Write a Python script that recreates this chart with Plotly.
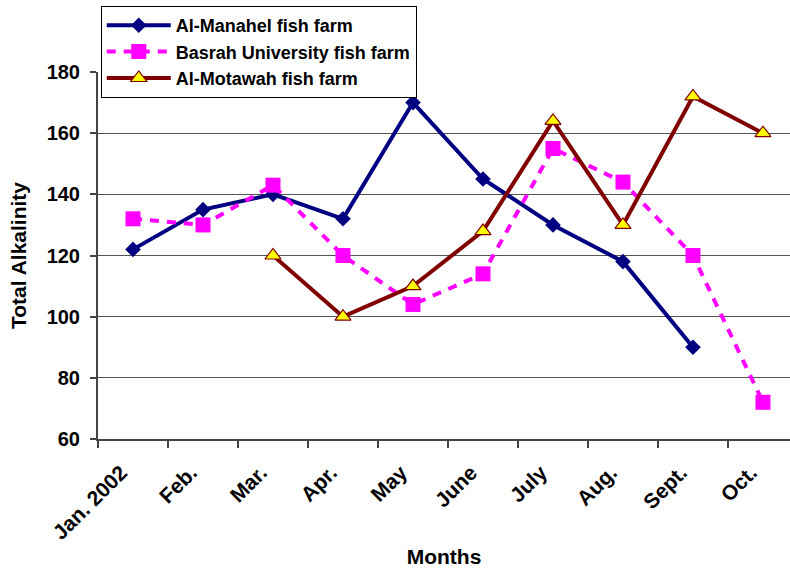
import plotly.graph_objects as go

months = ["Jan. 2002", "Feb.", "Mar.", "Apr.", "May", "June", "July", "Aug.", "Sept.", "Oct."]
manahel = [122, 135, 140, 132, 170, 145, 130, 118, 90, None]
basrah = [132, 130, 143, 120, 104, 114, 155, 144, 120, 72]
motawah = [None, None, 120, 100, 110, 128, 164, 130, 172, 160]

FONT = "Liberation Sans, Arial, sans-serif"

fig = go.Figure()
fig.add_trace(go.Scatter(
    x=months, y=manahel, name="Al-Manahel fish farm", mode="lines+markers",
    line=dict(color="#000080", width=4),
    marker=dict(symbol="diamond", size=12, color="#000080"),
    cliponaxis=False,
))
fig.add_trace(go.Scatter(
    x=months, y=basrah, name="Basrah University fish farm", mode="lines+markers",
    line=dict(color="#FF00FF", width=4, dash="9px,8px"),
    marker=dict(symbol="square", size=15, color="#FF00FF"),
    cliponaxis=False,
))
fig.add_trace(go.Scatter(
    x=months, y=motawah, name="Al-Motawah fish farm", mode="lines+markers",
    line=dict(color="#800000", width=4),
    marker=dict(symbol="triangle-up", size=14, color="#FFFF00",
                line=dict(color="#800000", width=1.2)),
    cliponaxis=False,
))

fig.update_layout(
    width=790, height=574,
    margin=dict(l=98, r=0, t=72, b=135, autoexpand=False),
    paper_bgcolor="white", plot_bgcolor="white",
    font=dict(family=FONT, size=20, color="black", weight="bold"),
    showlegend=True,
    legend=dict(
        x=0.004, y=1.1799, xanchor="left", yanchor="top",
        bgcolor="white", bordercolor="black", borderwidth=1,
        font=dict(family=FONT, size=18, color="black", weight="bold"),
        itemwidth=64, traceorder="normal",
    ),
    xaxis=dict(
        type="category", range=[-0.5, 9.386], automargin=False,
        showgrid=False, showline=True, linecolor="#444", linewidth=2,
        ticks="outside", tickson="boundaries", ticklen=7, tickcolor="#444", tickwidth=1.5,
        tickangle=-45, tickfont=dict(family=FONT, size=21, color="black", weight="bold"),
        ticklabelshift=-12, ticklabelstandoff=11,
        title=dict(text="Months", standoff=6,
                   font=dict(family=FONT, size=21, color="black", weight="bold")),
        zeroline=False,
    ),
    yaxis=dict(
        range=[60, 180], dtick=20, tick0=60, automargin=False,
        showgrid=True, gridcolor="#555", gridwidth=1,
        showline=True, linecolor="#444", linewidth=2,
        ticks="outside", ticklen=6, tickcolor="#444", tickwidth=1.5,
        tickfont=dict(family=FONT, size=20, color="black", weight="bold"),
        ticklabelstandoff=6,
        title=dict(text="Total Alkalinity", standoff=14,
                   font=dict(family=FONT, size=21, color="black", weight="bold")),
        zeroline=False,
    ),
)

fig.write_html("out.html")
